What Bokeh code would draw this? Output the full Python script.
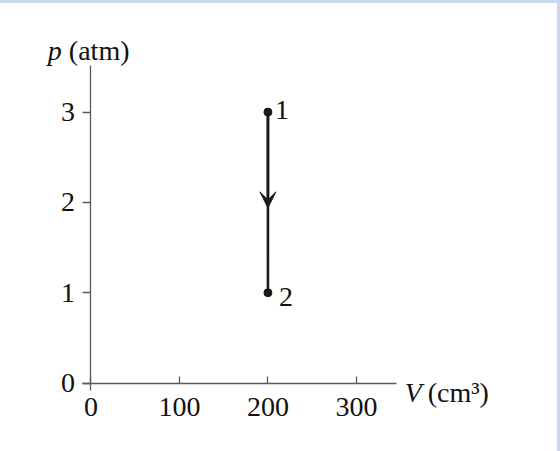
from bokeh.plotting import figure
from bokeh.models import Range1d, FixedTicker, Label, Arrow, VeeHead
from bokeh.core.properties import value
from bokeh.embed import file_html
from bokeh.resources import INLINE

# ---- data ----
V = [200, 200]            # cm^3
P = [3, 1]                # atm
state_names = ["1", "2"]
arrow_tip_p = 1.94        # arrow head position on the path (atm)
x_ticks = [0, 100, 200, 300]
y_ticks = [0, 1, 2, 3]
x_axis_extent = (-9.1, 345.5)
y_axis_extent = (-0.078, 3.52)

FONT = "Liberation Serif"
FS = "28px"
INK = "#1a1a1a"
AXIS = "#5a5a5a"
TXT = "#111111"

DY = 0.0223
p = figure(width=560, height=451, output_backend="svg", toolbar_location=None,
           title=None,
           x_range=Range1d(-102.27, 530.68), y_range=Range1d(-0.7692 - DY, 4.2252 - DY),
           min_border_left=0, min_border_right=0,
           min_border_top=0, min_border_bottom=0)
p.styles = {"border-top": "3px solid #c9d9ec", "border-right": "3px solid #c9d9ec",
            "box-sizing": "border-box"}
p.outline_line_color = None
p.xgrid.visible = False
p.ygrid.visible = False
p.background_fill_color = "white"
p.border_fill_color = "white"

for ax in (p.xaxis[0], p.yaxis[0]):
    ax.fixed_location = 0
    ax.axis_line_color = AXIS
    ax.axis_line_width = 1.3
    ax.major_tick_line_color = AXIS
    ax.major_tick_line_width = 1.3
    ax.minor_tick_line_color = None
    ax.major_label_text_font = FONT
    ax.major_label_text_font_size = FS
    ax.major_label_text_color = TXT

p.xaxis.bounds = x_axis_extent
p.yaxis.bounds = y_axis_extent
p.xaxis.ticker = FixedTicker(ticks=x_ticks)
p.yaxis.ticker = FixedTicker(ticks=y_ticks)
p.xaxis.major_tick_in = 7
p.xaxis.major_tick_out = 0
p.xaxis.major_label_standoff = 15
p.yaxis.major_tick_in = 0
p.yaxis.major_tick_out = 8
p.yaxis.major_label_standoff = 8

# process path
p.line(V, P, line_width=2.6, line_color=INK)
p.scatter(V, P, size=8, color=INK)
p.add_layout(Arrow(end=VeeHead(size=16, fill_color=INK, line_color=INK),
                   x_start=V[0], y_start=P[0], x_end=V[1], y_end=arrow_tip_p,
                   line_width=2.6, line_color=INK))

p.text(x=[V[0]], y=[P[0]], text=[state_names[0]], x_offset=7, y_offset=-2,
       text_font=value(FONT), text_font_size=FS, text_baseline="middle",
       text_color=TXT)
p.text(x=[V[1]], y=[P[1]], text=[state_names[1]], x_offset=11, y_offset=4,
       text_font=value(FONT), text_font_size=FS, text_baseline="middle",
       text_color=TXT)

# axis titles
p.add_layout(Label(x=-48.9, y=3.68, text="p", text_font=FONT, text_font_style="italic",
                   text_font_size=FS, text_color=TXT, text_baseline="alphabetic"))
p.add_layout(Label(x=-25.0, y=3.68, text="(atm)", text_font=FONT,
                   text_font_size=FS, text_color=TXT, text_baseline="alphabetic"))
p.add_layout(Label(x=354.5, y=-0.1, text="V", text_font=FONT, text_font_style="italic",
                   text_font_size=FS, text_color=TXT, text_baseline="alphabetic"))
p.add_layout(Label(x=380.5, y=-0.1, text="(cm³)", text_font=FONT,
                   text_font_size=FS, text_color=TXT, text_baseline="alphabetic"))

open("out.html", "w").write(file_html(p, INLINE))
